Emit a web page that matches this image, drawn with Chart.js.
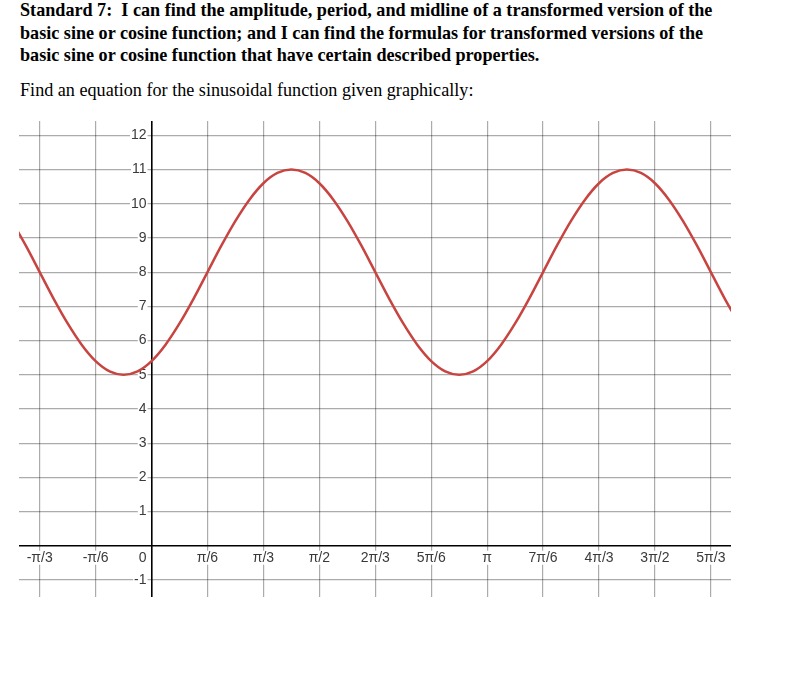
<!DOCTYPE html>
<html>
<head>
<meta charset="utf-8">
<script src="https://cdn.jsdelivr.net/npm/chart.js@4.4.0/dist/chart.umd.min.js"></script>
<style>
  body { margin: 0; background: #fff; width: 787px; height: 695px; overflow: hidden; position: relative; }
  .std { position: absolute; left: 20px; top: -1px; font: bold 18.15px "Liberation Serif", "Times New Roman", serif; line-height: 22.5px; color: #000; white-space: nowrap; }
  .ask { position: absolute; left: 20px; top: 79px; font: 18.15px "Liberation Serif", "Times New Roman", serif; line-height: 22.5px; color: #000; white-space: nowrap; }
  #wrap { position: absolute; left: 19px; top: 121px; width: 712px; height: 476px; }
</style>
</head>
<body>
<div class="std">Standard 7:&nbsp; I can find the amplitude, period, and midline of a transformed version of the<br>basic sine or cosine function; and I can find the formulas for transformed versions of the<br>basic sine or cosine function that have certain described properties.</div>
<div class="ask">Find an equation for the sinusoidal function given graphically:</div>
<div id="wrap"><canvas id="graph"></canvas></div>
<script>
// x in units of pi/6
const xTicks = [-2, -1, 0, 1, 2, 3, 4, 5, 6, 7, 8, 9, 10];
const xLabels = ['-π/3', '-π/6', '0', 'π/6', 'π/3', 'π/2', '2π/3', '5π/6', 'π', '7π/6', '4π/3', '3π/2', '5π/3'];
const yTicks = [-1, 0, 1, 2, 3, 4, 5, 6, 7, 8, 9, 10, 11, 12];
const yLabels = ['-1', '', '1', '2', '3', '4', '5', '6', '7', '8', '9', '10', '11', '12'];

// curve, every pi/24
const curveX = [-2.5, -2.25, -2, -1.75, -1.5, -1.25, -1, -0.75, -0.5, -0.25,
  0, 0.25, 0.5, 0.75, 1, 1.25, 1.5, 1.75, 2, 2.25, 2.5, 2.75, 3, 3.25, 3.5, 3.75,
  4, 4.25, 4.5, 4.75, 5, 5.25, 5.5, 5.75, 6, 6.25, 6.5, 6.75, 7, 7.25, 7.5, 7.75,
  8, 8.25, 8.5, 8.75, 9, 9.25, 9.5, 9.75, 10, 10.25, 10.5];
const curveY = [9.5, 8.78, 8, 7.22, 6.5, 5.88, 5.4, 5.1, 5, 5.1,
  5.4, 5.88, 6.5, 7.22, 8, 8.78, 9.5, 10.12, 10.6, 10.9, 11, 10.9, 10.6, 10.12, 9.5, 8.78,
  8, 7.22, 6.5, 5.88, 5.4, 5.1, 5, 5.1, 5.4, 5.88, 6.5, 7.22, 8, 8.78, 9.5, 10.12,
  10.6, 10.9, 11, 10.9, 10.6, 10.12, 9.5, 8.78, 8, 7.22, 6.5];

const labelFont = '14px "Liberation Sans", Arial, sans-serif';

// tick labels sit inside the plot next to the axes, on a white box
const axisLabels = {
  id: 'axisLabels',
  beforeDatasetsDraw(chart) {
    const ctx = chart.ctx;
    const xs = chart.scales.x, ys = chart.scales.y;
    const x0 = xs.getPixelForValue(0), y0 = ys.getPixelForValue(0);
    ctx.save();
    ctx.font = labelFont;
    ctx.textBaseline = 'middle';
    yTicks.forEach((v, i) => {
      const t = yLabels[i];
      if (!t) return;
      const w = ctx.measureText(t).width;
      const py = ys.getPixelForValue(v);
      ctx.fillStyle = '#fff';
      ctx.fillRect(x0 - 5 - w - 1, py - 7, w + 2, 14);
      ctx.fillStyle = '#3a3a3a';
      ctx.textAlign = 'right';
      ctx.fillText(t, x0 - 5, py);
    });
    xTicks.forEach((v, i) => {
      const t = xLabels[i];
      const w = ctx.measureText(t).width;
      let px = xs.getPixelForValue(v);
      if (v === 0) px = x0 - 5 - w / 2;
      const py = y0 + 12;
      ctx.fillStyle = '#fff';
      ctx.fillRect(px - w / 2 - 1, py - 7, w + 2, 14);
      ctx.fillStyle = '#3a3a3a';
      ctx.textAlign = 'center';
      ctx.fillText(t, px, py);
    });
    ctx.restore();
  }
};

new Chart(document.getElementById('graph'), {
  type: 'line',
  data: {
    datasets: [{
      data: curveX.map((x, i) => ({ x: x, y: curveY[i] })),
      borderColor: '#c74440',
      borderWidth: 2.5,
      pointRadius: 0,
      cubicInterpolationMode: 'monotone',
      fill: false
    }]
  },
  options: {
    responsive: true,
    maintainAspectRatio: false,
    animation: false,
    layout: { padding: 0 },
    plugins: { legend: { display: false }, tooltip: { enabled: false } },
    scales: {
      x: {
        type: 'linear',
        min: -2.37,
        max: 10.36,
        afterBuildTicks: (scale) => { scale.ticks = xTicks.map(v => ({ value: v })); },
        ticks: { display: false },
        border: { display: false },
        grid: {
          drawTicks: false,
          color: (c) => c.tick && c.tick.value === 0 ? '#000' : 'rgba(0,0,0,0.33)',
          lineWidth: (c) => c.tick && c.tick.value === 0 ? 1.6 : 1.2
        }
      },
      y: {
        type: 'linear',
        min: -1.5,
        max: 12.42,
        afterBuildTicks: (scale) => { scale.ticks = yTicks.map(v => ({ value: v })); },
        ticks: { display: false },
        border: { display: false },
        grid: {
          drawTicks: false,
          color: (c) => c.tick && c.tick.value === 0 ? '#000' : 'rgba(0,0,0,0.33)',
          lineWidth: (c) => c.tick && c.tick.value === 0 ? 1.6 : 1.2
        }
      }
    }
  },
  plugins: [axisLabels]
});
</script>
</body>
</html>
